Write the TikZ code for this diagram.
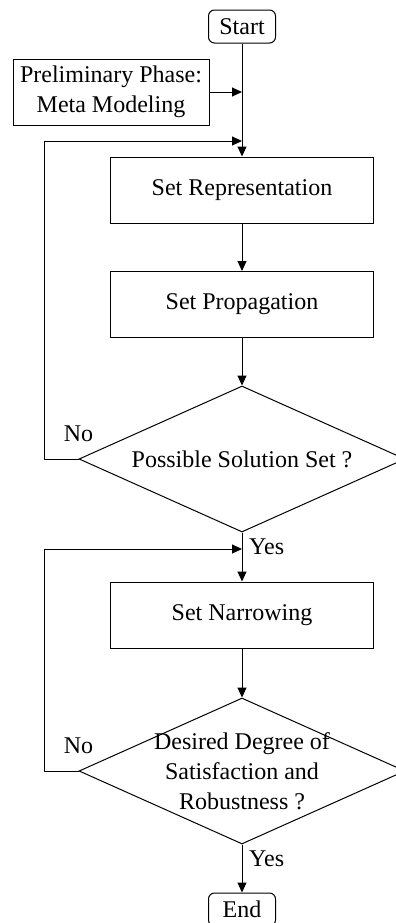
\documentclass[tikz,border=0pt]{standalone}
\usepackage{fontspec}
\setmainfont{Liberation Serif}
\usetikzlibrary{shapes.geometric,arrows.meta,positioning}

\begin{document}
\begin{tikzpicture}[x=0.5pt,y=0.5pt,
  font=\fontsize{12}{15}\selectfont,
  line width=0.5pt,
  >={Triangle[length=5pt,width=4.5pt]},
  terminal/.style={draw,rounded corners=3pt,minimum width=33.5pt,minimum height=16.5pt,inner sep=0pt},
  process/.style={draw,minimum width=131.5pt,minimum height=33pt,inner sep=0pt},
  decision/.style={draw,diamond,aspect=2.25,minimum width=163pt,minimum height=73pt,inner sep=0pt}]
\useasboundingbox (0,0) rectangle (396,-923);

\node[terminal] (start) at (242,-26.5) {Start};
\node[draw,align=center,minimum width=98pt,minimum height=33pt,inner sep=0pt] (prelim) at (111,-92) {Preliminary Phase:\\Meta Modeling};
\node[process] (rep) at (242,-190) {Set Representation};
\node[process] (prop) at (242,-304.5) {Set Propagation};
\node[decision] (sol) at (242,-459) {Possible Solution Set ?};
\node[process] (narrow) at (242,-615) {Set Narrowing};
\node[decision,label={[align=center]center:Desired Degree of\\Satisfaction and\\Robustness ?}] (robust) at (242,-771) {};
\node[terminal] (end) at (242,-909.5) {End};

\coordinate (loopa) at (242,-141);
\coordinate (loopb) at (242,-549);

\draw[->] (start) -- (rep);
\draw[->] (prelim) -- (prelim -| start);
\draw[->] (rep) -- (prop);
\draw[->] (prop) -- (sol);
\draw[->] (sol) -- node[right,pos=0.3]{Yes} (narrow);
\draw[->] (narrow) -- (robust);
\draw[->] (robust) -- node[right,pos=0.3]{Yes} (end);
\draw[->] (sol.west) -- node[above=5pt,pos=0]{No} ++(-34,0) |- (loopa);
\draw[->] (robust.west) -- node[above=5pt,pos=0]{No} ++(-34,0) |- (loopb);
\end{tikzpicture}
\end{document}
